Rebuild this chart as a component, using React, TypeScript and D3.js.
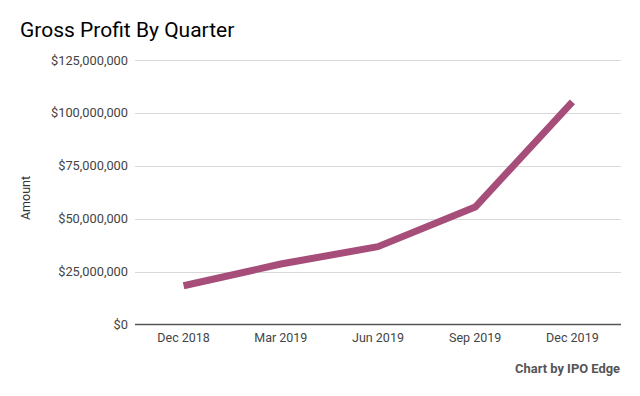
import React, { useEffect, useRef } from 'react';
import * as d3 from 'd3';

const quarters = ['Dec 2018', 'Mar 2019', 'Jun 2019', 'Sep 2019', 'Dec 2019'];
const grossProfit = [18300000, 28600000, 36800000, 55500000, 105200000];
const yTicks = [0, 25000000, 50000000, 75000000, 100000000, 125000000];

export default function App() {
    const ref = useRef<SVGSVGElement>(null);

    useEffect(() => {
        const width = 640;
        const height = 396;
        const left = 135;
        const right = 621;
        const top = 60;
        const bottom = 324.5;

        const svg = d3.select(ref.current);
        svg.selectAll('*').remove();
        svg.attr('width', width).attr('height', height).style('font-family', 'Roboto, sans-serif');

        svg.append('rect').attr('width', width).attr('height', height).attr('fill', '#fff');

        const x = d3.scalePoint().domain(quarters).range([left, right]).padding(0.5);
        const y = d3.scaleLinear().domain([0, 125000000]).range([bottom, top]);
        const fmt = (v: number) => '$' + d3.format(',')(v);

        // gridlines
        svg.append('g')
            .selectAll('line')
            .data(yTicks.filter((t) => t > 0))
            .enter()
            .append('line')
            .attr('x1', left)
            .attr('x2', right)
            .attr('y1', (d) => Math.round(y(d)) + 0.5)
            .attr('y2', (d) => Math.round(y(d)) + 0.5)
            .attr('stroke', '#d9d9d9')
            .attr('stroke-width', 1);

        svg.append('g')
            .selectAll('text')
            .data(yTicks)
            .enter()
            .append('text')
            .attr('x', 128)
            .attr('y', (d) => y(d) + 4.5)
            .attr('text-anchor', 'end')
            .attr('font-size', 12.8)
            .attr('fill', '#444')
            .text(fmt);

        // baseline
        svg.append('line')
            .attr('x1', left)
            .attr('x2', right)
            .attr('y1', bottom)
            .attr('y2', bottom)
            .attr('stroke', '#555')
            .attr('stroke-width', 1.5);

        svg.append('g')
            .selectAll('text')
            .data(quarters)
            .enter()
            .append('text')
            .attr('x', (d) => x(d)!)
            .attr('y', 342)
            .attr('text-anchor', 'middle')
            .attr('font-size', 12.5)
            .attr('fill', '#444')
            .text((d) => d);

        const line = d3
            .line<number>()
            .x((_, i) => x(quarters[i])!)
            .y((d) => y(d));

        svg.append('path')
            .datum(grossProfit)
            .attr('d', line)
            .attr('fill', 'none')
            .attr('stroke', '#a64d79')
            .attr('stroke-width', 7)
            .attr('stroke-linejoin', 'round');

        svg.append('text')
            .attr('x', 20)
            .attr('y', 37)
            .attr('font-size', 21)
            .attr('fill', '#000')
            .text('Gross Profit By Quarter');

        svg.append('text')
            .attr('transform', 'translate(30, 198) rotate(-90)')
            .attr('text-anchor', 'middle')
            .attr('font-size', 12.5)
            .attr('fill', '#333')
            .text('Amount');

        svg.append('text')
            .attr('x', 620)
            .attr('y', 373)
            .attr('text-anchor', 'end')
            .attr('font-size', 12.9)
            .attr('font-weight', 'bold')
            .attr('fill', '#555')
            .text('Chart by IPO Edge');
    }, []);

    return (
        <div style={{ position: 'absolute', left: 0, top: 0 }}>
            <svg ref={ref}></svg>
        </div>
    );
}
